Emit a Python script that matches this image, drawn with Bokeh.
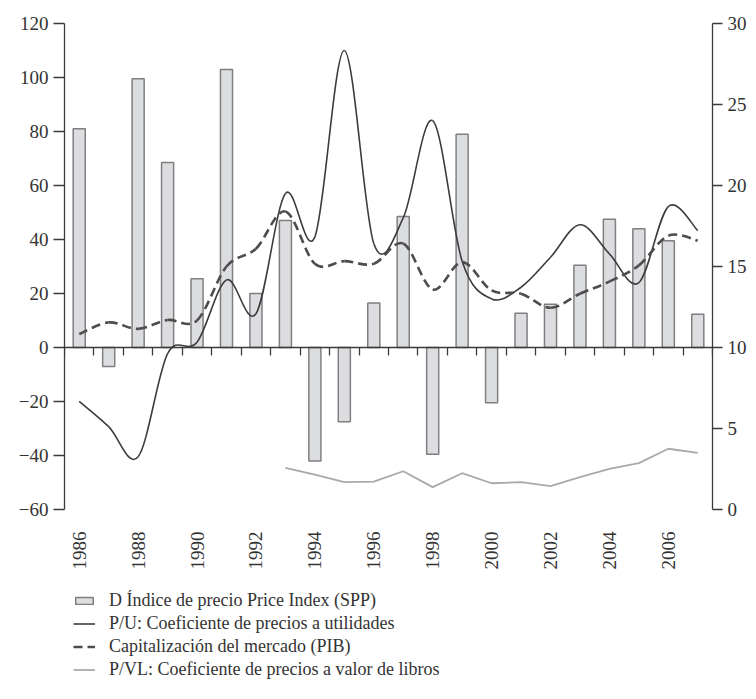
import math
from bokeh.plotting import figure
from bokeh.layouts import column
from bokeh.models import Range1d, LinearAxis, FixedTicker, Legend, LegendItem
from bokeh.embed import file_html
from bokeh.resources import INLINE

NaN = float("nan")

# ---- data ----
years = list(range(1986, 2008))
# Δ Índice de precio (left axis, %)
price_index = [81, -7, 99.5, 68.5, 25.5, 103, 20, 47, -42, -27.5, 16.5,
               48.5, -39.5, 79, -20.5, 12.7, 16, 30.5, 47.5, 44, 39.5, 12.3]
# P/U (right axis)
pu = [6.68, 5.12, 3.25, 9.62, 10.33, 14.17, 12.08, 19.5, 16.83, 28.33, 16.42,
      18.0, 24.0, 15.33, 13.0, 13.72, 15.57, 17.58, 15.78, 14.0, 18.7, 17.22]
# Capitalización del mercado (% PIB, right axis)
cap = [10.83, 11.55, 11.15, 11.7, 11.67, 15.0, 16.1, 18.4, 15.17, 15.33, 15.17,
       16.42, 13.58, 15.27, 13.52, 13.32, 12.45, 13.32, 14.07, 15.07, 16.9, 16.6]
# P/VL (right axis)
pvl = [NaN, NaN, NaN, NaN, NaN, NaN, NaN, 2.57, 2.15, 1.69, 1.72,
       2.36, 1.38, 2.24, 1.62, 1.69, 1.44, 2.0, 2.51, 2.86, 3.75, 3.5]

left_ticks = [-60, -40, -20, 0, 20, 40, 60, 80, 100, 120]
right_ticks = [0, 5, 10, 15, 20, 25, 30]
year_labels = [1986, 1988, 1990, 1992, 1994, 1996, 1998, 2000, 2002, 2004, 2006]

legend_labels = ["D Índice de precio Price Index (SPP)",
                 "P/U: Coeficiente de precios a utilidades",
                 "Capitalización del mercado (PIB)",
                 "P/VL: Coeficiente de precios a valor de libros"]

FONT = "Liberation Serif"
AX = "#3a3a3a"
TXT = "#333333"

BAR_STYLE = dict(fill_color="#dcdde0", line_color="#7f7f7f", line_width=1.5)
PU_STYLE = dict(line_color="#3c3c3c", line_width=1.6)
CAP_STYLE = dict(line_color="#4d4d4d", line_width=2.6, line_dash="9 5")
PVL_STYLE = dict(line_color="#a9a9a9", line_width=1.8)

x_range = Range1d(years[0] - 0.5, years[-1] + 0.5)

p = figure(frame_width=648, frame_height=486,
           x_range=x_range, y_range=Range1d(-60, 120),
           x_axis_location=None, y_axis_location=None,
           output_backend="svg", toolbar_location=None,
           min_border_left=64, min_border_right=40, min_border_top=23,
           min_border_bottom=70)
p.extra_y_ranges = {"right": Range1d(0, 30)}
p.outline_line_color = None
p.grid.visible = False


def style(ax):
    ax.axis_line_color = AX
    ax.axis_line_width = 1.3
    ax.major_tick_line_color = AX
    ax.major_tick_line_width = 1.3
    ax.minor_tick_line_color = None
    ax.major_label_text_font = FONT
    ax.major_label_text_font_size = "19px"
    ax.major_label_text_color = TXT


yl = LinearAxis(ticker=FixedTicker(ticks=left_ticks))
style(yl)
yl.major_tick_out = 11
yl.major_tick_in = 0
yl.major_label_standoff = 5
p.add_layout(yl, "left")

yr = LinearAxis(y_range_name="right", ticker=FixedTicker(ticks=right_ticks))
style(yr)
yr.major_tick_out = 10
yr.major_tick_in = 0
yr.major_label_standoff = 5
p.add_layout(yr, "right")

# year labels at the bottom
xl = LinearAxis(ticker=FixedTicker(ticks=year_labels),
                major_label_overrides={y: str(y) for y in year_labels})
style(xl)
xl.axis_line_color = None
xl.major_tick_line_color = None
xl.major_tick_out = 0
xl.major_tick_in = 0
xl.major_label_orientation = math.pi / 2
xl.major_label_standoff = 22
p.add_layout(xl, "below")

# horizontal axis line at zero, tick marks between the years
bounds = [y - 0.5 for y in years] + [years[-1] + 0.5]
x0ax = LinearAxis(ticker=FixedTicker(ticks=bounds), fixed_location=0)
style(x0ax)
x0ax.major_label_text_color = None
x0ax.major_label_standoff = 0
x0ax.major_tick_out = 0
x0ax.major_tick_in = 8
p.add_layout(x0ax, "above")

p.vbar(x=years, top=price_index, bottom=0, width=0.41, **BAR_STYLE)


def smooth(xs, ys):
    """Cubic Bezier segments (Catmull-Rom control points) through the readings."""
    pts = [(x, y) for x, y in zip(xs, ys) if not math.isnan(y)]
    n = len(pts)
    out = dict(x0=[], y0=[], x1=[], y1=[], cx0=[], cy0=[], cx1=[], cy1=[])
    for i in range(n - 1):
        p0 = pts[i - 1] if i > 0 else pts[i]
        p1 = pts[i]
        p2 = pts[i + 1]
        p3 = pts[i + 2] if i + 2 < n else pts[i + 1]
        out["x0"].append(p1[0]); out["y0"].append(p1[1])
        out["x1"].append(p2[0]); out["y1"].append(p2[1])
        out["cx0"].append(p1[0] + (p2[0] - p0[0]) / 6)
        out["cy0"].append(p1[1] + (p2[1] - p0[1]) / 6)
        out["cx1"].append(p2[0] - (p3[0] - p1[0]) / 6)
        out["cy1"].append(p2[1] - (p3[1] - p1[1]) / 6)
    return out


p.bezier(**smooth(years, pu), y_range_name="right", **PU_STYLE)
p.bezier(**smooth(years, cap), y_range_name="right", **CAP_STYLE)
p.line(x=years, y=pvl, y_range_name="right", **PVL_STYLE)

# ---- legend strip underneath: the same series as hidden renderers,
# so that only their legend samples show ----
lf = figure(frame_width=648, frame_height=95,
            x_range=x_range, y_range=Range1d(-60, 120),
            x_axis_location=None, y_axis_location=None,
            output_backend="svg", toolbar_location=None,
            min_border_left=64, min_border_right=40, min_border_top=11,
            min_border_bottom=0)
lf.outline_line_color = None
lf.grid.visible = False
r0 = lf.vbar(x=years, top=price_index, bottom=0, width=0.41, visible=False, **BAR_STYLE)
r1 = lf.line(x=years, y=pu, visible=False, **PU_STYLE)
r2 = lf.line(x=years, y=cap, visible=False, **CAP_STYLE)
r3 = lf.line(x=years, y=pvl, visible=False, **PVL_STYLE)

legend = Legend(items=[LegendItem(label=legend_labels[0], renderers=[r0]),
                       LegendItem(label=legend_labels[1], renderers=[r1]),
                       LegendItem(label=legend_labels[2], renderers=[r2]),
                       LegendItem(label=legend_labels[3], renderers=[r3])],
                location=(9, 5), orientation="vertical",
                border_line_color=None, background_fill_alpha=0,
                label_text_font=FONT, label_text_font_size="18px",
                label_text_color=TXT,
                glyph_width=22, glyph_height=9, label_standoff=14,
                label_height=20, spacing=2, padding=2, margin=0)
lf.add_layout(legend, "center")

open("out.html", "w").write(file_html(column(p, lf), INLINE))
